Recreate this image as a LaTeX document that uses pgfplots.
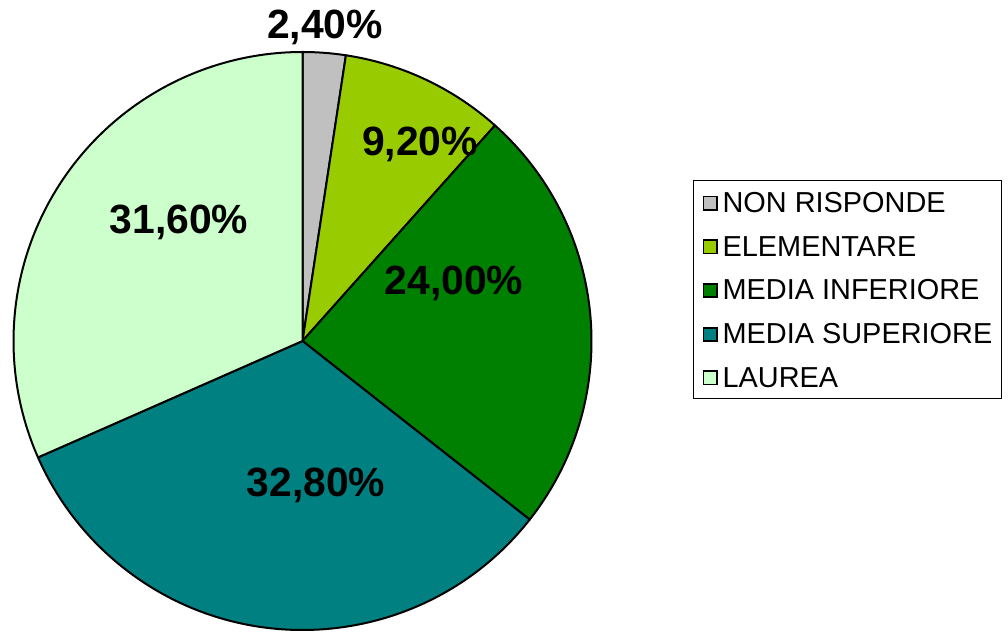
\documentclass[border=0pt]{standalone}
\usepackage{pgfplots}
\pgfplotsset{compat=1.18}
\usepackage{fontspec}
\setmainfont{Liberation Sans}
\definecolor{cNR}{HTML}{C0C0C0}
\definecolor{cEL}{HTML}{99CC00}
\definecolor{cMI}{HTML}{008000}
\definecolor{cMS}{HTML}{008080}
\definecolor{cLA}{HTML}{CCFFCC}
% slice: #1 cumulative start (%), #2 value (%), #3 colour
\newcommand\slice[3]{%
  \pgfmathsetmacro\sa{90-3.6*#1}%
  \pgfmathsetmacro\sb{90-3.6*(#1+#2)}%
  \edef\temp{\noexpand\filldraw[fill=#3,draw=black,line width=1bp,line join=round]
    (axis cs:302.5,292) -- ++(\sa:144.5bp) arc[start angle=\sa, end angle=\sb, radius=144.5bp] -- cycle;}%
  \temp}
\begin{document}
\begin{tikzpicture}
\begin{axis}[name=ax,
  width=504bp, height=316.5bp, scale only axis,
  xmin=0, xmax=1008, ymin=0, ymax=633,
  hide axis, clip=false,
  legend image code/.code={\draw[#1,draw=black,line width=0.9bp] (0bp,1.3bp) rectangle (6.6bp,7.9bp);},
  legend cell align=left,
  legend style={at={(axis cs:693,453)}, anchor=north west, draw=black, line width=0.6bp,
    font=\fontsize{14.5}{17}\selectfont,
    cells={anchor=base west},
    nodes={inner sep=0pt, text height=10.4bp, text depth=0pt},
    row sep=11.45bp, column sep=2.5bp, inner xsep=4.5bp, inner ysep=5.5bp},
]
% values (percent): 2.4, 9.2, 24.0, 32.8, 31.6
\slice{0}{2.4}{cNR}
\slice{2.4}{9.2}{cEL}
\slice{11.6}{24.0}{cMI}
\slice{35.6}{32.8}{cMS}
\slice{68.4}{31.6}{cLA}
\addlegendimage{fill=cNR}\addlegendentry{NON RISPONDE}
\addlegendimage{fill=cEL}\addlegendentry{ELEMENTARE}
\addlegendimage{fill=cMI}\addlegendentry{MEDIA INFERIORE}
\addlegendimage{fill=cMS}\addlegendentry{MEDIA SUPERIORE}
\addlegendimage{fill=cLA}\addlegendentry{LAUREA}
\begin{scope}[every node/.style={anchor=base, inner sep=0pt, font=\fontsize{20.5}{24}\selectfont\bfseries}]
\node at (axis cs:325,594) {2,40\%};
\node at (axis cs:420,477) {9,20\%};
\node at (axis cs:454,338) {24,00\%};
\node at (axis cs:316,136) {32,80\%};
\node at (axis cs:179,399) {31,60\%};
\end{scope}
\end{axis}
\pgfresetboundingbox
\path (ax.south west) rectangle (ax.north east);
\end{tikzpicture}
\end{document}
